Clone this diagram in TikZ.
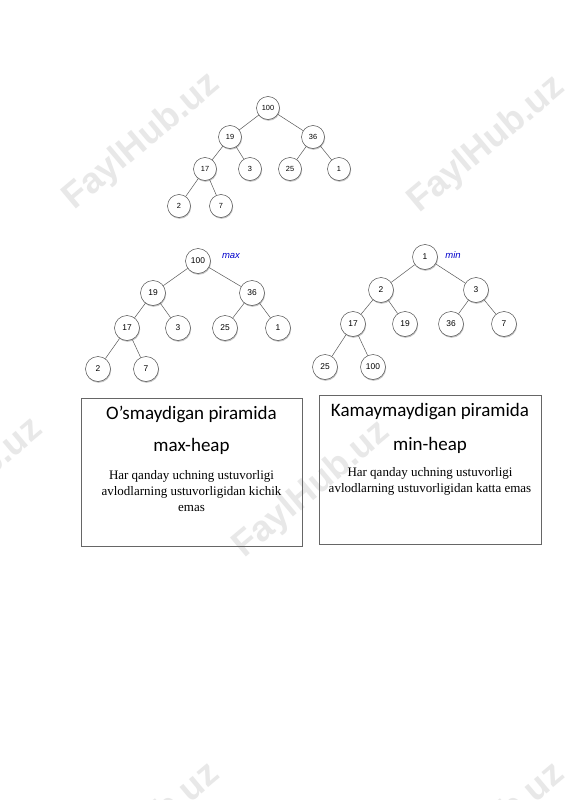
\documentclass[tikz,border=0pt]{standalone}
\usepackage{fontspec}
\setmainfont{Liberation Serif}
\setsansfont{Liberation Sans}
\newfontfamily\calibri{Carlito}
\usetikzlibrary{shadows}
\begin{document}
\begin{tikzpicture}[x=1pt,y=-1pt,
  hnode/.style={circle,draw=black!70,line width=0.5pt,fill=white,minimum size=23pt,inner sep=0pt,
    font=\sffamily\fontsize{7.4}{8}\selectfont,
    drop shadow={shadow xshift=0.6pt,shadow yshift=-1.3pt,fill=black!45,opacity=0.5}},
  bnode/.style={hnode,minimum size=25pt,font=\sffamily\fontsize{8.4}{9}\selectfont},
  edge/.style={draw=black!65,line width=0.5pt},
  wm/.style={rotate=40,text=black!9,font=\sffamily\bfseries\fontsize{36}{36}\selectfont},
  tag/.style={text=blue!80!black,font=\sffamily\itshape\fontsize{9.5}{10}\selectfont,inner sep=0pt},
  card/.style={draw=black!60,line width=0.6pt,inner sep=0pt},
  title/.style={font=\calibri\fontsize{19}{21}\selectfont,inner sep=0pt},
  body/.style={font=\fontsize{13}{15.8}\selectfont,align=center,inner sep=0pt}]
\useasboundingbox (0,0) rectangle (565,800);
\fill[white] (0,0) rectangle (565,800);

% watermarks
\node[wm] (w1) at (142,142) {FaylHub.uz};
\node[wm] (w2) at (487,145) {FaylHub.uz};
\node[wm] (w3) at (-35,487) {FaylHub.uz};
\node[wm] (w4) at (312,490) {FaylHub.uz};
\node[wm] (w5) at (142,832) {FaylHub.uz};
\node[wm] (w6) at (487,832) {FaylHub.uz};

% top tree
\node[hnode] (a100) at (268,108) {100};
\node[hnode] (a19) at (230,137) {19};
\node[hnode] (a36) at (313,137) {36};
\node[hnode] (a17) at (205,169) {17};
\node[hnode] (a3) at (250,169) {3};
\node[hnode] (a25) at (290,169) {25};
\node[hnode] (a1) at (339,169) {1};
\node[hnode] (a2) at (179,206) {2};
\node[hnode] (a7) at (221,206) {7};
\draw[edge] (a100) -- (a19);
\draw[edge] (a100) -- (a36);
\draw[edge] (a19) -- (a17);
\draw[edge] (a19) -- (a3);
\draw[edge] (a36) -- (a25);
\draw[edge] (a36) -- (a1);
\draw[edge] (a17) -- (a2);
\draw[edge] (a17) -- (a7);

% max heap
\node[bnode] (b100) at (198,261) {100};
\node[tag] (bmax) at (231,256) {max};
\node[bnode] (b19) at (153,293) {19};
\node[bnode] (b36) at (252,293) {36};
\node[bnode] (b17) at (127,328) {17};
\node[bnode] (b3) at (178,328) {3};
\node[bnode] (b25) at (225,328) {25};
\node[bnode] (b1) at (278,328) {1};
\node[bnode] (b2) at (98,369) {2};
\node[bnode] (b7) at (146,369) {7};
\draw[edge] (b100) -- (b19);
\draw[edge] (b100) -- (b36);
\draw[edge] (b19) -- (b17);
\draw[edge] (b19) -- (b3);
\draw[edge] (b36) -- (b25);
\draw[edge] (b36) -- (b1);
\draw[edge] (b17) -- (b2);
\draw[edge] (b17) -- (b7);

% min heap
\node[bnode] (c1) at (425,257) {1};
\node[tag] (cmin) at (453,255) {min};
\node[bnode] (c2) at (381,290) {2};
\node[bnode] (c3) at (476,290) {3};
\node[bnode] (c17) at (353,324) {17};
\node[bnode] (c19) at (405,324) {19};
\node[bnode] (c36) at (451,324) {36};
\node[bnode] (c7) at (504,324) {7};
\node[bnode] (c25) at (325,367) {25};
\node[bnode] (c100) at (373,367) {100};
\draw[edge] (c1) -- (c2);
\draw[edge] (c1) -- (c3);
\draw[edge] (c2) -- (c17);
\draw[edge] (c2) -- (c19);
\draw[edge] (c3) -- (c36);
\draw[edge] (c3) -- (c7);
\draw[edge] (c17) -- (c25);
\draw[edge] (c17) -- (c100);

% cards
\node[card,minimum width=221pt,minimum height=148pt] (boxL) at (191.5,472) {};
\node[title] (tL) at (191.5,414) {O’smaydigan piramida};
\node[title] (hL) at (191.5,446) {max-heap};
\node[body] (dL) at (191.5,491) {Har qanday uchning ustuvorligi\\avlodlarning ustuvorligidan kichik\\emas};

\node[card,minimum width=222pt,minimum height=149pt] (boxR) at (430,469.5) {};
\node[title] (tR) at (430,412) {Kamaymaydigan piramida};
\node[title] (hR) at (430,445) {min-heap};
\node[body] (dR) at (430,481) {Har qanday uchning ustuvorligi\\avlodlarning ustuvorligidan katta emas};
\end{tikzpicture}
\end{document}
